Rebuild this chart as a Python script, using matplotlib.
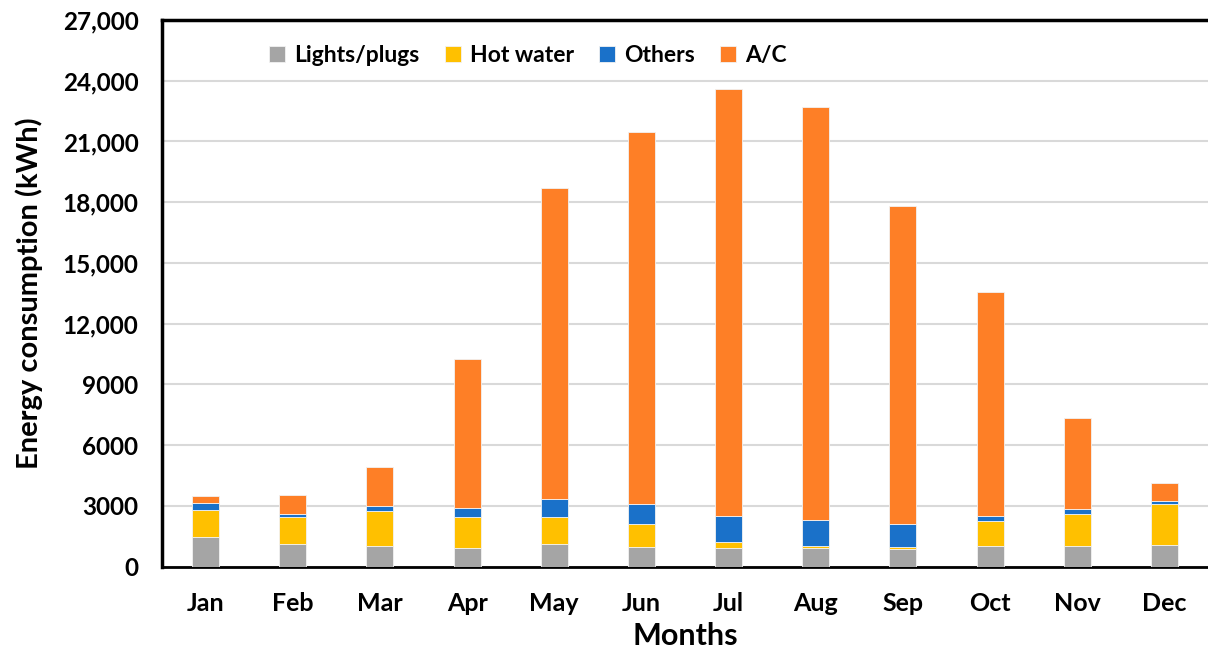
import numpy as np
import matplotlib
matplotlib.use("Agg")
import matplotlib.pyplot as plt
from matplotlib.ticker import FixedLocator

plt.rcParams['font.family'] = ['Lato', 'DejaVu Sans']
plt.rcParams['font.weight'] = 'bold'

# Données mensuelles (kWh)
months = ["Jan", "Feb", "Mar", "Apr", "May", "Jun", "Jul", "Aug", "Sep", "Oct", "Nov", "Dec"]
lights = [1440, 1110, 1010, 910, 1100, 960, 930, 910, 860, 1010, 1010, 1050]
hot_water = [1370, 1340, 1740, 1540, 1360, 1140, 300, 90, 100, 1250, 1600, 2050]
others = [320, 160, 230, 450, 870, 990, 1280, 1280, 1150, 250, 220, 160]
ac = [340, 940, 1950, 7350, 15370, 18400, 21100, 20440, 15710, 11050, 4500, 890]

yticks = [0, 3000, 6000, 9000, 12000, 15000, 18000, 21000, 24000, 27000]
ytick_labels = ["0", "3000", "6000", "9000", "12,000", "15,000", "18,000", "21,000", "24,000", "27,000"]

series = [("Lights/plugs", lights, "#a5a5a5"),
          ("Hot water", hot_water, "#ffc000"),
          ("Others", others, "#1a71c9"),
          ("A/C", ac, "#fe7f26")]

fig = plt.figure(figsize=(12.08, 6.51), dpi=100)
ax = fig.add_axes([162 / 1208, 1 - 566.6 / 651, 1046 / 1208, 546.6 / 651])

x = np.arange(len(months))
bottom = np.zeros(len(months))
for name, vals, color in series:
    ax.bar(x, vals, width=0.31, bottom=bottom, color=color, label=name,
           edgecolor="#f2f2f2", linewidth=0.6, zorder=3)
    bottom += np.array(vals)

ax.set_xlim(-0.5, 11.5)
ax.set_ylim(0, 27000)
ax.yaxis.set_major_locator(FixedLocator(yticks))
ax.set_yticklabels(ytick_labels, fontsize=17.5)
ax.set_xticks(x)
ax.set_xticklabels(months, fontsize=18)
ax.tick_params(axis="both", length=0)
ax.tick_params(axis="y", pad=17)
ax.tick_params(axis="x", pad=18)
ax.grid(axis="y", color="#d9d9d9", linewidth=1.5, zorder=0)

for side in ["left", "top"]:
    ax.spines[side].set_linewidth(2.5)
ax.spines["bottom"].set_linewidth(2)
ax.spines["right"].set_visible(False)

ax.set_xlabel("Months", fontsize=22, fontweight="bold", labelpad=5)
ax.set_ylabel("Energy consumption (kWh)", fontsize=21, fontweight="bold", labelpad=14)

ax.legend(loc="center", bbox_to_anchor=(0.35, 0.935), ncol=4, frameon=False,
          prop={"size": 16.5, "weight": "bold"}, handlelength=0.7, handleheight=0.7,
          handletextpad=0.4, columnspacing=1.1)

fig.savefig("out.png", dpi=100)
